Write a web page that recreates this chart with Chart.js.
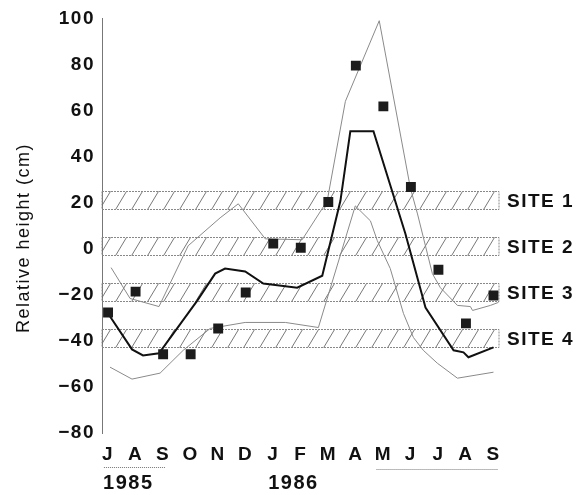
<!DOCTYPE html>
<html>
<head>
<meta charset="utf-8">
<script src="https://cdn.jsdelivr.net/npm/chart.js@4"></script>
<style>
  html, body { margin: 0; padding: 0; background: #fff; }
</style>
</head>
<body>
<canvas id="myChart" width="579" height="495"></canvas>
<script>
const ctx = document.getElementById('myChart');

// months Jul 1985 - Sep 1986
var months = ['J', 'A', 'S', 'O', 'N', 'D', 'J', 'F', 'M', 'A', 'M', 'J', 'J', 'A', 'S'];
var years = ['1985', '1986'];
var yearStart = [0, 6];

// monthly observations (squares)
var observed = [-27.7, -18.6, -45.8, -45.8, -34.6, -19, 2.2, 0.4, 20.3, 79.5, 61.8, 26.8, -9.1, -32.4, -20.3];

// mean curve (month position, height)
var meanT = [0, 0.87, 1.27, 1.85, 3.24, 3.89, 4.25, 4.98, 5.64, 6.87, 7.78, 8.44, 8.8, 9.64, 10.8, 11.53, 12.55, 12.91, 13.09, 14];
var meanH = [-28.1, -43.7, -46.3, -45.4, -22.5, -10.8, -8.6, -9.9, -15.1, -16.9, -11.7, 20.8, 51, 51, 6.5, -25.5, -44.1, -45, -47.1, -42.8];

// upper envelope
var upperT = [0.11, 0.8, 1.85, 2.91, 4.07, 4.73, 5.71, 7.05, 7.96, 8.62, 9.85, 10.98, 11.24, 11.78, 12.07, 12.69, 13.16, 13.24, 13.89, 14.18];
var upperH = [-8.2, -21.6, -25.1, 1.3, 13.4, 19.5, 4.3, 3.9, 20.8, 64, 99, 26.4, 15.1, -10.8, -16.9, -24.6, -25.1, -26.8, -24.6, -23.3];

// lower envelope
var lowerT = [0.07, 0.87, 1.89, 2.73, 3.71, 4.98, 6.44, 7.64, 8.98, 9.53, 9.78, 10.25, 10.73, 11.09, 11.45, 11.96, 12.69, 14];
var lowerH = [-51.4, -56.6, -54, -44.1, -34.6, -32, -32, -34.2, 18.6, 12.1, 3.5, -8.6, -28.1, -38.5, -44.1, -49.7, -56.2, -53.6];

// site elevation bands
var siteNames = ['SITE 1', 'SITE 2', 'SITE 3', 'SITE 4'];
var siteTop = [25, 5, -15, -35];
var siteBottom = [17, -3, -23, -43];

// underlined month spans
var underFrom = [-0.15, 9.75];
var underTo = [2.1, 14.15];

function pts(t, h) {
  return t.map(function (v, i) { return { x: v, y: h[i] }; });
}

var FONT = 'Liberation Sans, Arial, Helvetica, sans-serif';

const sitesPlugin = {
  id: 'sites',
  beforeDraw: function (chart) {
    chart.ctx.letterSpacing = '1.5px';
  },
  beforeDatasetsDraw: function (chart) {
    var c = chart.ctx, ys = chart.scales.y, a = chart.chartArea;
    c.save();
    for (var i = 0; i < siteNames.length; i++) {
      var top = ys.getPixelForValue(siteTop[i]);
      var bot = ys.getPixelForValue(siteBottom[i]);
      var h = bot - top;
      c.save();
      c.beginPath();
      c.rect(a.left, top, a.right - a.left, h);
      c.clip();
      c.strokeStyle = '#555';
      c.lineWidth = 0.8;
      c.beginPath();
      for (var xx = a.left - h; xx < a.right + h; xx += 16) {
        c.moveTo(xx, bot);
        c.lineTo(xx + h * 0.6, top);
      }
      c.stroke();
      c.restore();
      c.strokeStyle = '#888';
      c.lineWidth = 1;
      c.setLineDash([2, 1]);
      c.strokeRect(a.left, Math.round(top) + 0.5, a.right - a.left, Math.round(h));
      c.setLineDash([]);
    }
    c.restore();
  },
  afterDraw: function (chart) {
    var c = chart.ctx, ys = chart.scales.y, xs = chart.scales.x, a = chart.chartArea;
    c.save();
    c.letterSpacing = '1.5px';
    c.fillStyle = '#111';
    // site labels
    c.font = 'bold 19px ' + FONT;
    c.textAlign = 'left';
    c.textBaseline = 'middle';
    for (var i = 0; i < siteNames.length; i++) {
      var yc = ys.getPixelForValue((siteTop[i] + siteBottom[i]) / 2) + 1;
      c.fillText(siteNames[i], a.right + 8, yc);
    }
    // years
    c.font = 'bold 20px ' + FONT;
    for (var j = 0; j < years.length; j++) {
      c.fillText(years[j], xs.getPixelForValue(yearStart[j]) - 5, a.bottom + 50);
    }
    // underlines
    c.strokeStyle = '#777';
    c.lineWidth = 1;
    c.setLineDash([1, 1]);
    for (var k = 0; k < underFrom.length; k++) {
      var yy = a.bottom + 34.5 + k * 2;
      c.beginPath();
      c.moveTo(xs.getPixelForValue(underFrom[k]), yy);
      c.lineTo(xs.getPixelForValue(underTo[k]), yy);
      c.stroke();
    }
    c.setLineDash([]);
    // axis title
    c.font = '18px ' + FONT;
    c.textAlign = 'center';
    c.translate(24, 238);
    c.rotate(-Math.PI / 2);
    c.fillText('Relative height (cm)', 0, 0);
    c.restore();
  }
};

new Chart(ctx, {
  type: 'line',
  data: {
    datasets: [
      {
        label: 'observed',
        data: observed.map(function (v, i) { return { x: i, y: v }; }),
        showLine: false,
        pointStyle: 'rect',
        pointRadius: 7,
        backgroundColor: '#1c1c1c',
        borderWidth: 0
      },
      {
        label: 'mean',
        data: pts(meanT, meanH),
        borderColor: '#111',
        borderWidth: 2,
        pointRadius: 0,
        tension: 0
      },
      {
        label: 'upper',
        data: pts(upperT, upperH),
        borderColor: '#8a8a8a',
        borderWidth: 1,
        pointRadius: 0,
        tension: 0
      },
      {
        label: 'lower',
        data: pts(lowerT, lowerH),
        borderColor: '#8a8a8a',
        borderWidth: 1,
        pointRadius: 0,
        tension: 0
      }
    ]
  },
  options: {
    responsive: false,
    animation: false,
    layout: { padding: { top: 17, right: 80, left: 0, bottom: 0 } },
    plugins: { legend: { display: false }, tooltip: { enabled: false } },
    scales: {
      x: {
        type: 'linear',
        min: -0.22,
        max: 14.2,
        afterBuildTicks: function (s) {
          s.ticks = months.map(function (m, i) { return { value: i }; });
        },
        afterFit: function (s) { s.height = 62; },
        ticks: {
          autoSkip: false,
          maxRotation: 0,
          padding: 10,
          color: '#111',
          font: { family: FONT, size: 19, weight: 'bold' },
          callback: function (v, i) { return months[i]; }
        },
        grid: { display: false, drawTicks: false },
        border: { display: false }
      },
      y: {
        min: -80,
        max: 100,
        afterFit: function (s) { s.width = 102; },
        ticks: {
          stepSize: 20,
          padding: 7,
          color: '#111',
          font: { family: FONT, size: 19, weight: 'bold' },
          callback: function (v) { return String(v).replace('-', '\u2212'); }
        },
        grid: { display: false, drawTicks: false },
        border: { display: true, color: '#777', width: 1 }
      }
    }
  },
  plugins: [sitesPlugin]
});
</script>
</body>
</html>
